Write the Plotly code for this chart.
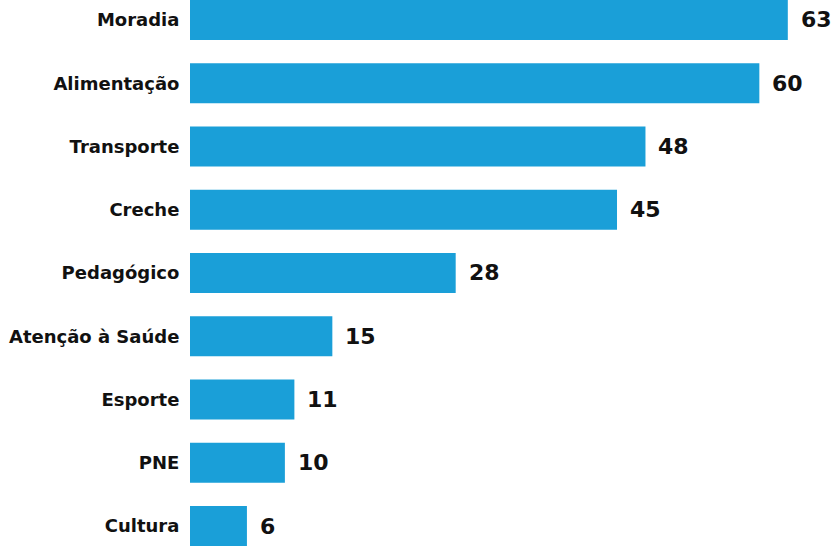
import plotly.graph_objects as go

categories = ["Moradia", "Alimentação", "Transporte", "Creche", "Pedagógico",
              "Atenção à Saúde", "Esporte", "PNE", "Cultura"]
values = [63, 60, 48, 45, 28, 15, 11, 10, 6]

bar_color = "#1a9fd8"
label_font = "DejaVu Sans"

fig = go.Figure()
fig.add_trace(go.Bar(
    x=values, y=categories, orientation="h",
    marker=dict(color=bar_color, line=dict(width=0)),
    width=0.63,
    hoverinfo="x+y",
))

# value labels to the right of each bar
for c, v in zip(categories, values):
    fig.add_annotation(x=v, y=c, text=str(v), showarrow=False,
                       xanchor="left", xshift=11,
                       font=dict(family=label_font, size=22, color="#111111", weight=700))

fig.update_layout(
    width=840, height=547,
    margin=dict(l=190, r=0, t=0, b=0),
    plot_bgcolor="white", paper_bgcolor="white",
    showlegend=False,
    font=dict(family=label_font, color="#111111"),
)
fig.update_xaxes(range=[0, 68.5], visible=False)
fig.update_yaxes(
    range=[8.332, -0.316],
    showgrid=False, zeroline=False, showline=False,
    ticks="outside", ticklen=6, tickcolor="white",
    tickfont=dict(family=label_font, size=18, color="#111111", weight=700),
)

# drop the default page margin so the figure sits at the window corner
fig.write_html("out.html", config={"displayModeBar": False},
               post_script="document.body.style.margin='0';")
